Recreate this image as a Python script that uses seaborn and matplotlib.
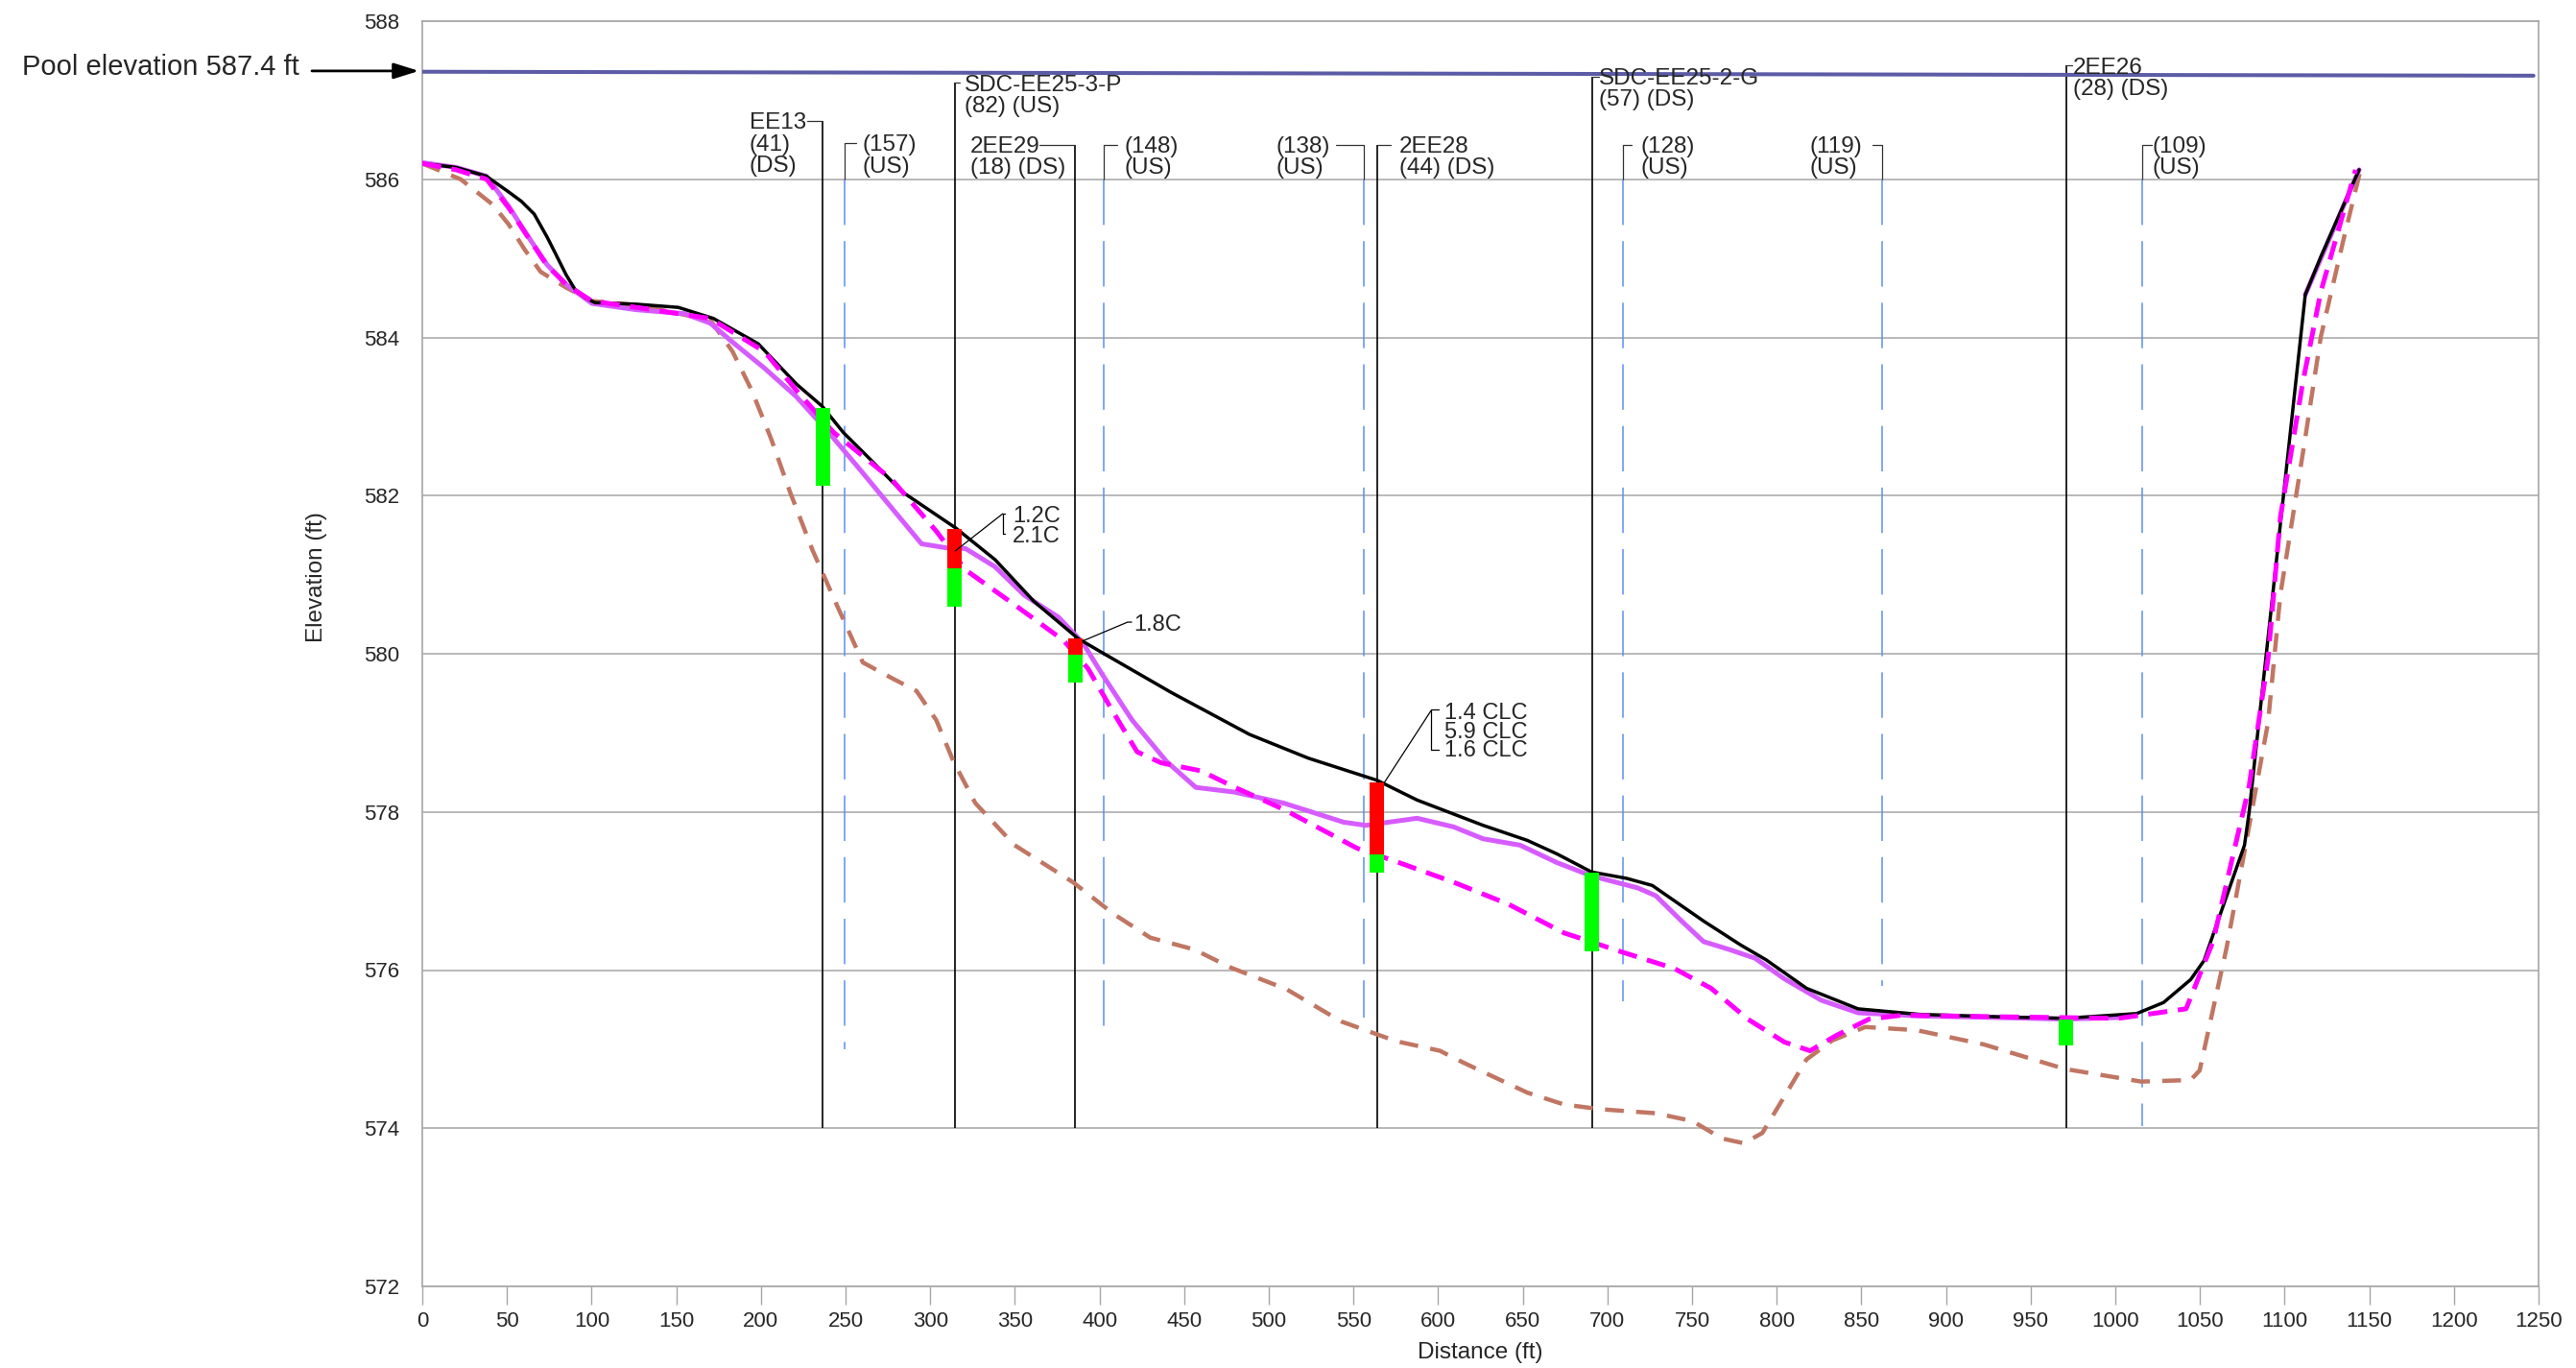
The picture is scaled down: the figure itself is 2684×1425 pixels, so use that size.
import matplotlib
matplotlib.use("Agg")
import matplotlib.pyplot as plt
import seaborn as sns

# ---------------- data ----------------
# solid black profile
black_x = [0, 20, 37.8, 51, 58.6, 66.1, 73.7, 77.5, 85, 90.7, 96.4, 102, 126.6, 151.2, 172, 198.4, 221,
           236.2, 248.6, 265, 283.3, 315.1, 338.3, 361.4, 387.5, 401.9, 442.4, 488.6, 523.3, 563.9,
           587.6, 626.6, 652.7, 670.1, 690.7, 711.3, 726.5, 756.8, 778.5, 793.7, 817.6, 848, 884.4, 930,
           970.1, 1012.6, 1028.5, 1044.5, 1052.4, 1076.3, 1079, 1112.2, 1121.4, 1144]
black_y = [586.2, 586.15, 586.04, 585.84, 585.72, 585.56, 585.27, 585.11, 584.79, 584.59, 584.50, 584.44,
           584.42, 584.38, 584.24, 583.92, 583.41, 583.13, 582.80, 582.45, 582.05, 581.59, 581.19, 580.66,
           580.19, 580.01, 579.51, 578.98, 578.68, 578.40, 578.15, 577.83, 577.64, 577.47, 577.24, 577.16,
           577.07, 576.62, 576.32, 576.13, 575.77, 575.51, 575.44, 575.41, 575.39, 575.45, 575.59, 575.88,
           576.12, 577.58, 577.99, 584.54, 585.02, 586.12]

# solid violet profile (two visible pieces)
violet_x = [0, 20, 37.8, 51, 62.4, 73.7, 85, 100.2, 126.6, 155, 170.1, 183.3, 202.2, 221, 240, 258.9,
            277.8, 294.9, 309.4, 320.9, 338.3, 355.6, 375.9, 390.4, 401.9, 419.3, 439.5, 456.9, 480, 509,
            544.2, 557.3, 587.6, 609.3, 626.6, 648.4, 670.1, 690.7, 717.8, 728.6, 743.8, 756.8, 772,
            787.2, 804.5, 826.2, 848, 884.4, 930, 970, 1002]
violet_y = [586.21, 586.15, 586.04, 585.66, 585.28, 584.92, 584.67, 584.43, 584.35, 584.30, 584.18, 583.94,
            583.61, 583.25, 582.80, 582.32, 581.83, 581.39, 581.34, 581.33, 581.10, 580.74, 580.46, 580.13,
            579.73, 579.16, 578.64, 578.31, 578.25, 578.11, 577.87, 577.83, 577.92, 577.81, 577.66, 577.58,
            577.36, 577.19, 577.04, 576.94, 576.62, 576.36, 576.26, 576.15, 575.89, 575.62, 575.46, 575.42,
            575.40, 575.38, 575.40]
violet_top_x = [1112.2, 1144]
violet_top_y = [584.54, 586.12]

# magenta dashed profile
magenta_x = [0, 20, 38, 51, 62.4, 73.7, 85, 100.2, 126.6, 170.1, 202.2, 221, 242.9, 277.5, 303.6, 320.9,
             349.8, 378.7, 393.3, 407.6, 422.2, 436.5, 459.8, 480, 509, 552.2, 576.8, 609.3, 641.8, 674.4,
             706.9, 739.5, 761.2, 782.9, 804.5, 819.7, 834.9, 854.5, 874, 930, 1002, 1041.8, 1057.7,
             1068.3, 1079, 1090.2, 1097.5, 1110.8, 1121.4, 1141.9]
magenta_y = [586.2, 586.12, 586.0, 585.64, 585.27, 584.91, 584.67, 584.46, 584.38, 584.24, 583.82, 583.33,
             582.80, 582.20, 581.55, 581.06, 580.62, 580.17, 579.81, 579.28, 578.76, 578.62, 578.52, 578.31,
             578.03, 577.54, 577.36, 577.11, 576.83, 576.47, 576.24, 576.02, 575.77, 575.38, 575.09, 574.98,
             575.17, 575.38, 575.43, 575.41, 575.39, 575.51, 576.36, 577.34, 578.32, 579.94, 581.73, 583.44,
             584.58, 586.12]

# brown dashed profile
brown_x = [0, 22.7, 41.6, 51, 60.5, 69.9, 85, 100.2, 126.6, 170.1, 183.3, 194.6, 206, 217.3, 230.5, 245.6,
           260.2, 277.5, 291.9, 303.6, 313.7, 326.7, 349.8, 384.4, 408.3, 430, 456, 477.7, 510.3, 542.8,
           575.3, 601, 614.9, 652.7, 674.4, 696.1, 728.6, 750.3, 767.7, 780.6, 791.5, 804.5, 817.6, 832.8,
           852.3, 882.6, 922.3, 970.1, 1015.3, 1044.5, 1049.8, 1065.7, 1076.3, 1090.2, 1097.5, 1110.8,
           1121.4, 1134.7, 1145.3]
brown_y = [586.2, 586.0, 585.68, 585.43, 585.11, 584.83, 584.63, 584.46, 584.41, 584.22, 583.82, 583.33,
           582.72, 582.04, 581.31, 580.58, 579.89, 579.69, 579.53, 579.16, 578.64, 578.11, 577.58, 577.11,
           576.71, 576.41, 576.26, 576.03, 575.76, 575.35, 575.10, 574.98, 574.83, 574.45, 574.30, 574.24,
           574.19, 574.09, 573.87, 573.81, 573.94, 574.40, 574.87, 575.11, 575.28, 575.24, 575.06, 574.75,
           574.59, 574.61, 574.73, 576.28, 577.50, 579.13, 580.75, 582.54, 584.01, 585.23, 586.16]

# pool elevation line
pool_x = [0, 1247]
pool_y = [587.36, 587.31]

# DS / sample stations (solid black lines)
ds_x = [236.5, 314.5, 385.5, 564.0, 691.0, 971.0]
ds_top = [586.74, 587.22, 586.44, 586.44, 587.30, 587.44]
ds_bottom = [574.0, 574.0, 574.0, 574.0, 574.0, 574.0]
ds_labels = ["EE13\n(41)\n(DS)", "SDC-EE25-3-P\n(82) (US)", "2EE29\n(18) (DS)",
             "2EE28\n(44) (DS)", "SDC-EE25-2-G\n(57) (DS)", "2EE26\n(28) (DS)"]

# US stations (blue dashed lines)
us_x = [249.5, 402.5, 556.0, 709.3, 862.2, 1015.8]
us_top = [586.46, 586.44, 586.44, 586.44, 586.44, 586.44]
us_bottom = [575.0, 575.2, 575.4, 575.6, 575.8, 574.03]
us_labels = ["(157)\n(US)", "(148)\n(US)", "(138)\n(US)", "(128)\n(US)", "(119)\n(US)", "(109)\n(US)"]

# measured segments on the station lines
red_x = [314.5, 385.5, 564.0]
red_low = [581.08, 579.99, 577.46]
red_high = [581.58, 580.19, 578.37]
green_x = [236.5, 314.5, 385.5, 564.0, 691.0, 971.0]
green_low = [582.12, 580.59, 579.64, 577.23, 576.24, 575.05]
green_high = [583.11, 581.08, 579.99, 577.46, 577.23, 575.37]

note_texts = [["1.2C", "2.1C"], ["1.8C"], ["1.4 CLC", "5.9 CLC", "1.6 CLC"]]

x_ticks = list(range(0, 1251, 50))
y_ticks = list(range(572, 589, 2))

# ---------------- layout / style ----------------
W, H = 2684, 1425
sns.set_theme(style="white")
plt.rcParams['font.family'] = ['Liberation Sans', 'DejaVu Sans']

fig = plt.figure(figsize=(W / 100, H / 100), dpi=100)
ax = fig.add_axes([440 / W, 85 / H, 2205 / W, 1318 / H])

GRID = '#a6a6a6'
ax.set_xlim(0, 1250)
ax.set_ylim(572, 588)
ax.set_xticks(x_ticks)
ax.set_yticks(y_ticks)
ax.grid(axis='y', color=GRID, lw=1.1)
ax.grid(axis='x', visible=False)
ax.set_axisbelow(True)
for s in ax.spines.values():
    s.set_color(GRID)
    s.set_linewidth(1.2)
ax.tick_params(axis='x', direction='out', length=13.7, width=1.0, color=GRID,
               pad=5, labelsize=16, bottom=True)
ax.tick_params(axis='y', length=0, pad=17, labelsize=16)

ax.set_xlabel("Distance (ft)", fontsize=17.5)
ax.set_ylabel("Elevation (ft)", fontsize=17.5)
ax.xaxis.set_label_coords(0.5, -0.0524)
ax.xaxis.label.set_va('center')
ax.yaxis.set_label_coords(-0.0499, 0.561)
ax.yaxis.label.set_va('center')

# station lines
ax.vlines(ds_x, ds_bottom, ds_top, colors='black', lw=1.2, zorder=1.5)
ax.vlines(us_x, [586.0] * len(us_x), us_bottom, colors='#5b8ff0', lw=1.1,
          linestyles=[(0, (31, 11))], zorder=1.5)
ax.vlines(us_x, [586.0] * len(us_x), us_top, colors='#333333', lw=0.9, zorder=1.5)

# profiles
sns.lineplot(x=brown_x, y=brown_y, ax=ax, color='#c07663', linewidth=3.2,
             estimator=None, sort=False, zorder=2)
ax.lines[-1].set_dashes([4.4, 2.9])
sns.lineplot(x=violet_x, y=violet_y, ax=ax, color='#d65cff', linewidth=3.6,
             estimator=None, sort=False, zorder=3)
sns.lineplot(x=violet_top_x, y=violet_top_y, ax=ax, color='#d65cff', linewidth=3.6,
             estimator=None, sort=False, zorder=3)
sns.lineplot(x=black_x, y=black_y, ax=ax, color='black', linewidth=2.5,
             estimator=None, sort=False, zorder=4)
sns.lineplot(x=magenta_x, y=magenta_y, ax=ax, color='#ff00ff', linewidth=3.6,
             estimator=None, sort=False, zorder=5)
ax.lines[-1].set_dashes([4.0, 2.2])
sns.lineplot(x=pool_x, y=pool_y, ax=ax, color='#5b5ba6', linewidth=2.9,
             estimator=None, sort=False, zorder=5)
for ln in ax.lines:
    ln.set_solid_joinstyle('round')
    ln.set_dash_joinstyle('round')

# measured segments
ax.bar(red_x, [h - l for h, l in zip(red_high, red_low)], bottom=red_low, width=8.5,
       color='#ff0000', zorder=6, linewidth=0)
ax.bar(green_x, [h - l for h, l in zip(green_high, green_low)], bottom=green_low, width=8.5,
       color='#00ff00', zorder=6, linewidth=0)

# station labels
LS = 0.27
FS = 17.5
ds_text_x = [193.3, 320.2, 323.5, 576.9, 694.8, 975.1]
ds_tick_end = [227.5, 317.5, 364.3, 572.2, 694.8, 974.3]
for x, top, lab, tx, te in zip(ds_x, ds_top, ds_labels, ds_text_x, ds_tick_end):
    ax.plot([x, te], [top, top], color='#333333', lw=0.9, zorder=1.5)
    for i, line in enumerate(lab.split("\n")):
        ax.text(tx, top - i * LS, line, ha='left', va='center_baseline', fontsize=FS, zorder=7)

us_text_x = [260.2, 414.9, 504.0, 719.5, 819.5, 1022.0]
us_tick_end = [256.0, 410.5, 539.7, 714.4, 856.3, 1021.3]
for x, top, lab, tx, te in zip(us_x, us_top, us_labels, us_text_x, us_tick_end):
    ax.plot([x, te], [top, top], color='#333333', lw=0.9, zorder=1.5)
    for i, line in enumerate(lab.split("\n")):
        ax.text(tx, top - i * LS, line, ha='left', va='center_baseline', fontsize=FS, zorder=7)

# callouts
LC = dict(color='black', lw=0.9, zorder=7)
# 1.2C / 2.1C
ax.plot([314.8, 342.8], [581.30, 581.77], **LC)
ax.plot([344.3, 342.8, 342.8, 344.3], [581.77, 581.77, 581.52, 581.52], **LC)
for i, t in enumerate(note_texts[0]):
    ax.text(348.6, 581.77 - i * 0.26, t, ha='left', va='center_baseline', fontsize=17, zorder=7)
# 1.8C
ax.plot([389.9, 416.6, 419.0], [580.16, 580.40, 580.40], **LC)
ax.text(420.2, 580.39, note_texts[1][0], ha='left', va='center_baseline', fontsize=17, zorder=7)
# CLC
ax.plot([568.2, 595.8], [578.37, 579.28], **LC)
ax.plot([600.5, 595.8, 595.8, 600.5], [579.29, 579.29, 578.78, 578.78], **LC)
for i, t in enumerate(note_texts[2]):
    ax.text(603.7, 579.28 - i * 0.24, t, ha='left', va='center_baseline', fontsize=17, zorder=7)

# pool elevation callout
fig.text(312 / W, (H - 78.3) / H, "Pool elevation 587.4 ft", ha='right', va='baseline',
         fontsize=21)
ax.annotate('', xy=(-2.0, 587.37), xytext=(-65.2, 587.37), annotation_clip=False,
            arrowprops=dict(arrowstyle='-|>,head_length=0.8,head_width=0.25', color='black',
                            lw=2.0, mutation_scale=20, shrinkA=0, shrinkB=0))

fig.savefig("out.png", dpi=100)
